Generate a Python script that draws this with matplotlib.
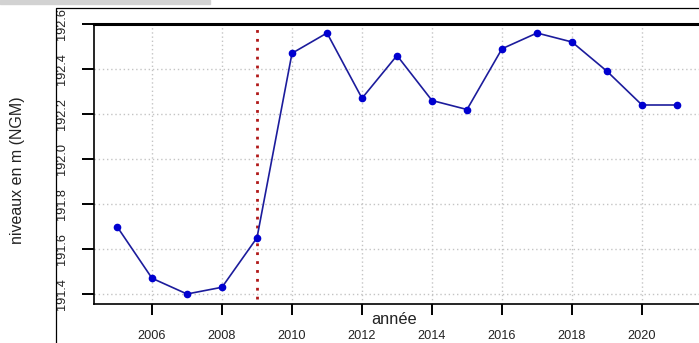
import matplotlib
matplotlib.use("Agg")
import matplotlib.pyplot as plt
from matplotlib.lines import Line2D
from matplotlib.patches import Rectangle

plt.rcParams['font.family'] = ['Liberation Sans', 'DejaVu Sans']

annees = [2005, 2006, 2007, 2008, 2009, 2010, 2011, 2012, 2013,
          2014, 2015, 2016, 2017, 2018, 2019, 2020, 2021]
niveaux = [191.70, 191.47, 191.40, 191.43, 191.65, 192.47, 192.56, 192.27, 192.46,
           192.26, 192.22, 192.49, 192.56, 192.52, 192.39, 192.24, 192.24]
x_ticks = [2006, 2008, 2010, 2012, 2014, 2016, 2018, 2020]
y_ticks = [191.4, 191.6, 191.8, 192.0, 192.2, 192.4, 192.6]
annee_rupture = 2009

W, H = 699, 343
fig = plt.figure(figsize=(W / 100, H / 100), dpi=100)

# pixel helpers
def fx(px):
    return px / W

def fy(py):
    return 1 - py / H

left, right, top, bottom = 94, 699, 24, 304
ax = fig.add_axes([fx(left), fy(bottom), fx(right - left), (bottom - top) / H])

# 35 px per year, 2005 at x=117 ; 45 px per 0.2 m, 191.4 at y=294
x0 = 2005 - (117 - left) / 35
ax.set_xlim(x0, x0 + (right - left) / 35)
ax.set_ylim(191.4 - (bottom - 294) / 225, 192.6)

ax.grid(True, color='#c4c4c4', linestyle=(0, (1, 2)), linewidth=1)
ax.set_axisbelow(True)

ax.vlines(annee_rupture, 191.38, 192.6, colors='#b01818', linestyles=(0, (1, 2.2)),
          linewidth=2, zorder=2)
ax.plot(annees, niveaux, color='#1c1c9c', linewidth=1.2, marker='o',
        markersize=4.5, markerfacecolor='#0000d0', markeredgecolor='#0000d0', zorder=3)

ax.set_xticks(x_ticks)
ax.set_yticks(y_ticks)
ax.set_xticklabels([str(t) for t in x_ticks])
ax.set_yticklabels(['%.1f' % t for t in y_ticks], rotation=90, va='center')
ax.tick_params(axis='x', direction='out', length=8, width=1.4, pad=11, labelsize=9.2,
               labelcolor='#222222')
ax.tick_params(axis='y', direction='out', length=8.5, width=1.4, pad=10.5, labelsize=9.2,
               labelcolor='#222222')

ax.spines['right'].set_visible(False)
ax.spines['top'].set_linewidth(2.2)
ax.spines['left'].set_linewidth(1.2)
ax.spines['bottom'].set_linewidth(1.2)

fig.text(fx(18), fy(170), 'niveaux en m (NGM)', rotation=90, ha='center', va='center',
         fontsize=11.5, color='#222222')
fig.text(fx(394), fy(319), 'année', ha='center', va='center', fontsize=11.8,
         color='#222222')

# outer frame and top bar of the screenshot
fig.add_artist(Line2D([fx(56), fx(56), 1], [0, fy(8), fy(8)], color='black',
                      linewidth=0.9, transform=fig.transFigure))
fig.add_artist(Rectangle((0, fy(4)), fx(210), 4 / H, color='#d2d2d2',
                         transform=fig.transFigure))

fig.savefig('out.png', dpi=100)
